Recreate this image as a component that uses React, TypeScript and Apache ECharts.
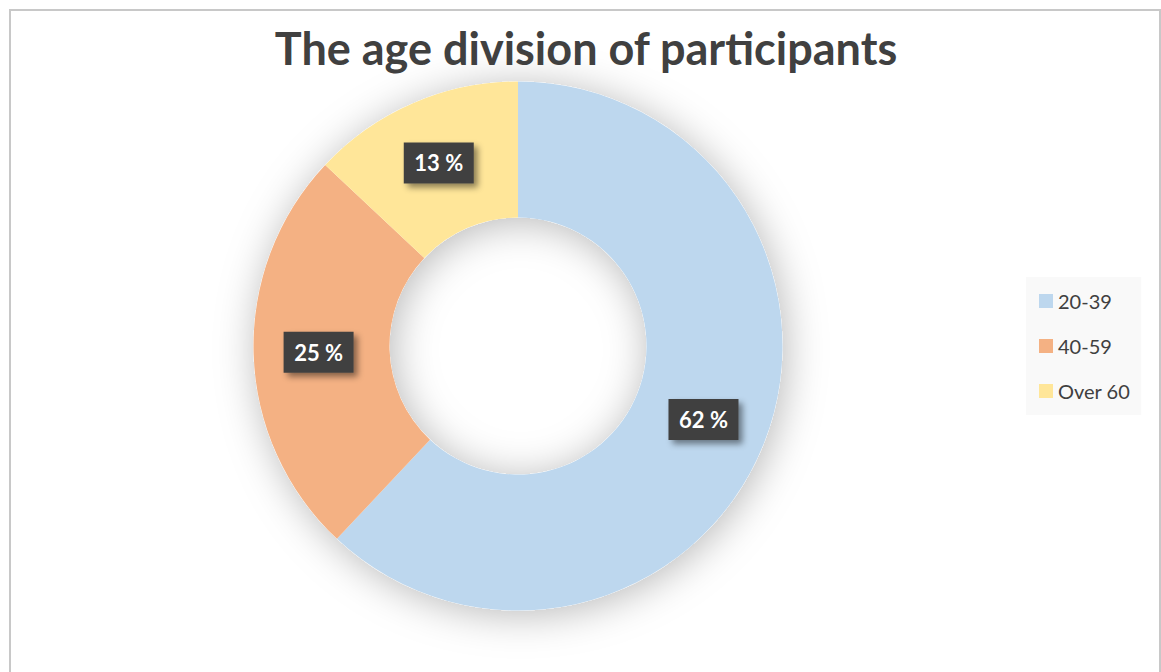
import React, { useEffect, useRef } from "react";
import * as echarts from "echarts";

const titleText = "The age division of participants";
const categories = ["20-39", "40-59", "Over 60"];
const values = [62, 25, 13];
const colors = ["#BDD7EE", "#F4B183", "#FFE699"];

export default function App() {
  const ref = useRef<HTMLDivElement>(null);
  useEffect(() => {
    if (!ref.current) return;
    const chart = echarts.init(ref.current, undefined, { renderer: "svg" });
    const font = "Lato, 'Open Sans', sans-serif";
    chart.setOption({
      animation: false,
      backgroundColor: "#ffffff",
      graphic: [
        {
          type: "rect",
          shape: { x: 10, y: 10, width: 1150, height: 700 },
          style: { fill: "none", stroke: "#c8c8c8", lineWidth: 2 },
          silent: true,
          z: 0,
        },
        {
          type: "text",
          x: 586,
          y: 48,
          style: {
            text: titleText,
            fill: "#404040",
            font: `bold 45px ${font}`,
            textAlign: "center",
            textVerticalAlign: "middle",
          },
          z: 10,
        },
      ],
      legend: {
        data: categories,
        orient: "vertical",
        left: 1026,
        top: 277,
        backgroundColor: "#f9f9f9",
        padding: [13, 11, 13, 13],
        itemWidth: 14,
        itemHeight: 14,
        itemGap: 23,
        itemTextGap: 5,
        icon: "rect",
        textStyle: { fontFamily: font, fontSize: 20, color: "#404040", lineHeight: 22 },
      },
      series: [
        {
          type: "pie",
          name: "shadow",
          center: [518, 346],
          radius: [128.5, 264.5],
          silent: true,
          label: { show: false },
          labelLine: { show: false },
          itemStyle: {
            color: "#ffffff",
            shadowBlur: 40,
            shadowColor: "rgba(0,0,0,0.28)",
            shadowOffsetX: 3,
            shadowOffsetY: 4,
          },
          data: [{ value: 1, name: "__shadow__" }],
          z: 1,
        },
        {
          type: "pie",
          name: "Age",
          center: [518, 346],
          radius: [128.5, 264.5],
          startAngle: 90,
          clockwise: true,
          avoidLabelOverlap: false,
          z: 2,
          label: {
            show: true,
            position: "inside",
            formatter: (p: any) => `${p.value} %`,
            color: "#ffffff",
            fontFamily: font,
            fontWeight: "bold",
            fontSize: 22,
            backgroundColor: "#404040",
            padding: [9, 10],
            width: 50,
            height: 23,
            lineHeight: 23,
            align: "center",
            verticalAlign: "middle",
            shadowColor: "rgba(0,0,0,0.45)",
            shadowBlur: 6,
            shadowOffsetX: 4,
            shadowOffsetY: 4,
          },
          labelLine: { show: false },
          emphasis: { disabled: true },
          data: categories.map((c, i) => ({
            name: c,
            value: values[i],
            itemStyle: { color: colors[i] },
          })),
        },
      ],
    });
    return () => chart.dispose();
  }, []);
  return (
    <div
      ref={ref}
      style={{ position: "absolute", left: 0, top: 0, width: 1161, height: 672 }}
    />
  );
}
